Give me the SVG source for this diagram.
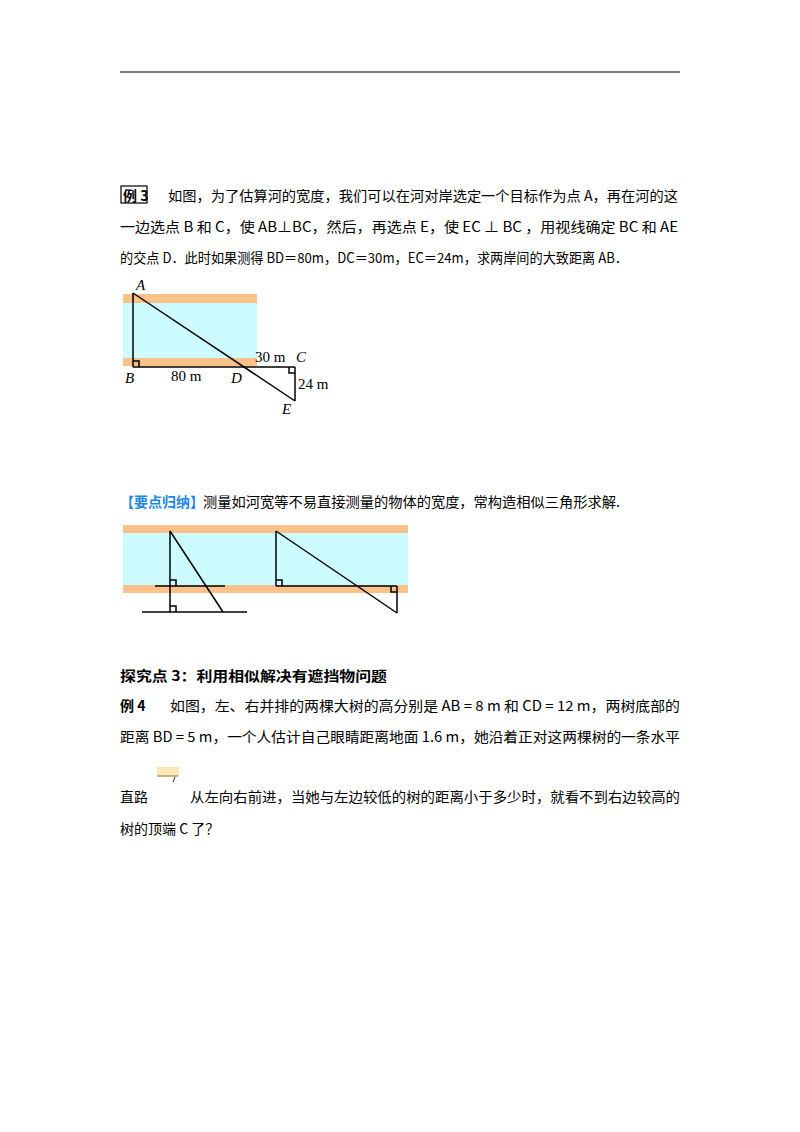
<svg xmlns="http://www.w3.org/2000/svg" width="800" height="1132" viewBox="0 0 800 1132">
<style>
.t{font-family:"Noto Sans CJK SC","Noto Sans",sans-serif;font-size:14px;fill:#000}
.b{font-weight:bold}
.lb{font-family:"Liberation Serif",serif;font-size:15px;font-style:italic}
.n{font-family:"Liberation Serif",serif;font-size:15px}
.ln{stroke:#000;stroke-width:1.5;fill:none}
.band{fill:#f9c28a}
.water{fill:#ccfcff}
</style>
<rect width="800" height="1132" fill="#fff"/>
<line x1="120" y1="72" x2="680" y2="72" stroke="#000" stroke-width="1.2"/>
<rect x="121" y="186" width="26" height="17" fill="none" stroke="#000" stroke-width="1.2"/>
<text class="t b" x="123" y="201">例 3</text>
<text class="t" x="168" y="201" textLength="510" lengthAdjust="spacingAndGlyphs">如图，为了估算河的宽度，我们可以在河对岸选定一个目标作为点 A，再在河的这</text>
<text class="t" x="120" y="232" textLength="558" lengthAdjust="spacingAndGlyphs">一边选点 B 和 C，使 AB⊥BC，然后，再选点 E，使 EC ⊥ BC ，用视线确定 BC 和 AE</text>
<text class="t" x="120" y="263" textLength="508" lengthAdjust="spacingAndGlyphs">的交点 D．此时如果测得 BD＝80m，DC＝30m，EC＝24m，求两岸间的大致距离 AB．</text>
<g id="fig1">
<rect class="band" x="123" y="294" width="134" height="9"/>
<rect class="water" x="123" y="303" width="134" height="55"/>
<rect class="band" x="123" y="358" width="134" height="8"/>
<line class="ln" x1="133" y1="293" x2="133" y2="367"/>
<line class="ln" x1="133" y1="367" x2="295" y2="367"/>
<line class="ln" x1="295" y1="367" x2="295" y2="401"/>
<line class="ln" x1="133" y1="293" x2="295" y2="401"/>
<polyline class="ln" points="133,361 139,361 139,367"/>
<polyline class="ln" points="289,367 289,373 295,373"/>
<text class="lb" x="136" y="290">A</text>
<text class="lb" x="125" y="383">B</text>
<text class="n" x="171" y="381">80 m</text>
<text class="lb" x="231" y="383">D</text>
<text class="n" x="255" y="362">30 m</text>
<text class="lb" x="296" y="362">C</text>
<text class="n" x="298" y="389">24 m</text>
<text class="lb" x="282" y="414">E</text>
</g>
<text class="t b" x="120" y="507" style="fill:#1e88e5">【要点归纳】</text>
<text class="t" x="203" y="507" textLength="417" lengthAdjust="spacingAndGlyphs">测量如河宽等不易直接测量的物体的宽度，常构造相似三角形求解.</text>
<g id="fig2">
<rect class="band" x="123" y="525" width="285" height="8"/>
<rect class="water" x="123" y="533" width="285" height="52"/>
<rect class="band" x="123" y="585" width="285" height="8"/>
<line class="ln" x1="170" y1="531" x2="170" y2="612"/>
<line class="ln" x1="170" y1="531" x2="223" y2="612"/>
<line class="ln" x1="155" y1="586" x2="225" y2="586"/>
<line class="ln" x1="142" y1="612" x2="247" y2="612"/>
<polyline class="ln" points="170,580 176,580 176,586"/>
<polyline class="ln" points="170,606 176,606 176,612"/>
<line class="ln" x1="276" y1="531" x2="276" y2="586"/>
<line class="ln" x1="276" y1="586" x2="397" y2="586"/>
<line class="ln" x1="397" y1="586" x2="397" y2="613"/>
<line class="ln" x1="276" y1="531" x2="397" y2="613"/>
<polyline class="ln" points="276,580 282,580 282,586"/>
<polyline class="ln" points="391,586 391,592 397,592"/>
</g>
<text class="t b" x="120" y="681" textLength="267" lengthAdjust="spacingAndGlyphs">探究点 3：利用相似解决有遮挡物问题</text>
<text class="t b" x="120" y="711">例 4</text>
<text class="t" x="170" y="711" textLength="510" lengthAdjust="spacingAndGlyphs">如图，左、右并排的两棵大树的高分别是  AB = 8  m  和  CD = 12  m，两树底部的</text>
<text class="t" x="120" y="742" textLength="560" lengthAdjust="spacingAndGlyphs">距离  BD = 5  m，一个人估计自己眼睛距离地面  1.6  m，她沿着正对这两棵树的一条水平</text>
<rect x="157" y="767" width="22" height="9" fill="#fbe9b5"/>
<line x1="157" y1="776" x2="178" y2="776" stroke="#b99a66" stroke-width="1.5"/>
<line x1="175" y1="777" x2="173" y2="782" stroke="#555" stroke-width="1.2"/>
<text class="t" x="120" y="802">直路</text>
<text class="t" x="190" y="802" textLength="490" lengthAdjust="spacingAndGlyphs">从左向右前进，当她与左边较低的树的距离小于多少时，就看不到右边较高的</text>
<text class="t" x="120" y="834">树的顶端 C  了？</text>
</svg>
